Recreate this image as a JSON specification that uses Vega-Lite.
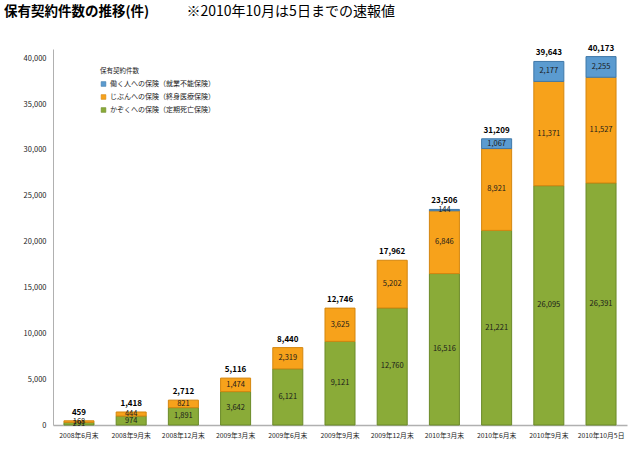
{
  "$schema": "https://vega.github.io/schema/vega-lite/v6.json",
  "width": 574,
  "height": 376,
  "autosize": {"type": "none"},
  "padding": {"left": 53, "top": 49, "right": 15, "bottom": 25},
  "background": "white",
  "title": {
    "text": "保有契約件数の推移(件)",
    "anchor": "start",
    "frame": "group",
    "dx": -49,
    "offset": -14,
    "fontSize": 13.5,
    "fontWeight": "bold",
    "color": "#000000",
    "font": "Noto Sans CJK JP"
  },
  "data": {
    "values": [
      {"cat": "2008年6月末", "series": "かぞくへの保険（定期死亡保険）", "value": 291},
      {"cat": "2008年6月末", "series": "じぶんへの保険（終身医療保険）", "value": 168},
      {"cat": "2008年9月末", "series": "かぞくへの保険（定期死亡保険）", "value": 974},
      {"cat": "2008年9月末", "series": "じぶんへの保険（終身医療保険）", "value": 444},
      {"cat": "2008年12月末", "series": "かぞくへの保険（定期死亡保険）", "value": 1891},
      {"cat": "2008年12月末", "series": "じぶんへの保険（終身医療保険）", "value": 821},
      {"cat": "2009年3月末", "series": "かぞくへの保険（定期死亡保険）", "value": 3642},
      {"cat": "2009年3月末", "series": "じぶんへの保険（終身医療保険）", "value": 1474},
      {"cat": "2009年6月末", "series": "かぞくへの保険（定期死亡保険）", "value": 6121},
      {"cat": "2009年6月末", "series": "じぶんへの保険（終身医療保険）", "value": 2319},
      {"cat": "2009年9月末", "series": "かぞくへの保険（定期死亡保険）", "value": 9121},
      {"cat": "2009年9月末", "series": "じぶんへの保険（終身医療保険）", "value": 3625},
      {"cat": "2009年12月末", "series": "かぞくへの保険（定期死亡保険）", "value": 12760},
      {"cat": "2009年12月末", "series": "じぶんへの保険（終身医療保険）", "value": 5202},
      {"cat": "2010年3月末", "series": "かぞくへの保険（定期死亡保険）", "value": 16516},
      {"cat": "2010年3月末", "series": "じぶんへの保険（終身医療保険）", "value": 6846},
      {"cat": "2010年3月末", "series": "働く人への保険（就業不能保険）", "value": 144},
      {"cat": "2010年6月末", "series": "かぞくへの保険（定期死亡保険）", "value": 21221},
      {"cat": "2010年6月末", "series": "じぶんへの保険（終身医療保険）", "value": 8921},
      {"cat": "2010年6月末", "series": "働く人への保険（就業不能保険）", "value": 1067},
      {"cat": "2010年9月末", "series": "かぞくへの保険（定期死亡保険）", "value": 26095},
      {"cat": "2010年9月末", "series": "じぶんへの保険（終身医療保険）", "value": 11371},
      {"cat": "2010年9月末", "series": "働く人への保険（就業不能保険）", "value": 2177},
      {"cat": "2010年10月5日", "series": "かぞくへの保険（定期死亡保険）", "value": 26391},
      {"cat": "2010年10月5日", "series": "じぶんへの保険（終身医療保険）", "value": 11527},
      {"cat": "2010年10月5日", "series": "働く人への保険（就業不能保険）", "value": 2255}
    ]
  },
  "transform": [
    {"stack": "value", "groupby": ["cat"], "sort": [{"field": "series", "order": "ascending"}], "as": ["y0", "y1"]}
  ],
  "encoding": {
    "x": {
      "field": "cat",
      "type": "nominal",
      "sort": ["2008年6月末", "2008年9月末", "2008年12月末", "2009年3月末", "2009年6月末", "2009年9月末", "2009年12月末", "2010年3月末", "2010年6月末", "2010年9月末", "2010年10月5日"],
      "scale": {"paddingInner": 0.425, "paddingOuter": 0.21},
      "axis": {
        "title": null,
        "labelAngle": 0,
        "labelFontSize": 6.8,
        "labelColor": "#222222",
        "labelPadding": 7,
        "ticks": false,
        "domainColor": "#b0b0b0",
        "domainWidth": 1.5
      }
    }
  },
  "layer": [
    {
      "mark": {"type": "bar", "strokeWidth": 1},
      "encoding": {
        "y": {
          "field": "y0",
          "type": "quantitative",
          "scale": {"domain": [0, 41000], "nice": false},
          "axis": {
            "title": "※2010年10月は5日までの速報値",
            "titleAngle": 0,
            "titleX": 133,
            "titleY": -34,
            "titleAlign": "left",
            "titleBaseline": "alphabetic",
            "titleFontSize": 14,
            "titleFontWeight": "normal",
            "titleColor": "#000000",
            "titleFont": "Noto Sans CJK JP",
            "values": [0, 5000, 10000, 15000, 20000, 25000, 30000, 35000, 40000],
            "labelExpr": "format(datum.value, ',')",
            "grid": false,
            "ticks": false,
            "labelFontSize": 7.5,
            "labelColor": "#222222",
            "labelPadding": 7,
            "domainColor": "#b0b0b0"
          }
        },
        "y2": {"field": "y1"},
        "color": {
          "field": "series",
          "type": "nominal",
          "scale": {
            "domain": ["働く人への保険（就業不能保険）", "じぶんへの保険（終身医療保険）", "かぞくへの保険（定期死亡保険）"],
            "range": ["#5b9bd0", "#f7a21b", "#8aab38"]
          },
          "legend": {
            "title": "保有契約件数",
            "orient": "none",
            "legendX": 47,
            "legendY": 19,
            "titleFontSize": 6.5,
            "titleFontWeight": "normal",
            "titleColor": "#222222",
            "titlePadding": 6,
            "labelFontSize": 7,
            "labelColor": "#222222",
            "labelOffset": 3,
            "symbolType": "square",
            "symbolSize": 22,
            "symbolStrokeWidth": 0.6,
            "rowPadding": 4
          }
        },
        "stroke": {
          "field": "series",
          "type": "nominal",
          "scale": {
            "domain": ["働く人への保険（就業不能保険）", "じぶんへの保険（終身医療保険）", "かぞくへの保険（定期死亡保険）"],
            "range": ["#3f78a8", "#d4860f", "#6b8a28"]
          },
          "legend": null
        }
      }
    },
    {
      "transform": [
        {"fold": ["y0", "y1"], "as": ["k", "pos"]},
        {"aggregate": [{"op": "mean", "field": "pos", "as": "mid"}], "groupby": ["cat", "series", "value"]}
      ],
      "mark": {"type": "text", "fontSize": 7.5, "color": "#1a1a1a", "baseline": "middle"},
      "encoding": {
        "y": {
          "field": "mid",
          "type": "quantitative",
          "axis": {
            "title": "※2010年10月は5日までの速報値",
            "titleAngle": 0,
            "titleX": 133,
            "titleY": -34,
            "titleAlign": "left",
            "titleBaseline": "alphabetic",
            "titleFontSize": 14,
            "titleFontWeight": "normal",
            "titleColor": "#000000",
            "titleFont": "Noto Sans CJK JP",
            "values": [0, 5000, 10000, 15000, 20000, 25000, 30000, 35000, 40000],
            "labelExpr": "format(datum.value, ',')",
            "grid": false,
            "ticks": false,
            "labelFontSize": 7.5,
            "labelColor": "#222222",
            "labelPadding": 7,
            "domainColor": "#b0b0b0"
          }
        },
        "text": {"field": "value", "type": "quantitative", "format": ","}
      }
    },
    {
      "mark": {"type": "text", "fontSize": 8, "fontWeight": "bold", "color": "#000000", "baseline": "middle", "dy": -8},
      "encoding": {
        "y": {
          "aggregate": "max",
          "field": "y1",
          "type": "quantitative",
          "axis": {
            "title": "※2010年10月は5日までの速報値",
            "titleAngle": 0,
            "titleX": 133,
            "titleY": -34,
            "titleAlign": "left",
            "titleBaseline": "alphabetic",
            "titleFontSize": 14,
            "titleFontWeight": "normal",
            "titleColor": "#000000",
            "titleFont": "Noto Sans CJK JP",
            "values": [0, 5000, 10000, 15000, 20000, 25000, 30000, 35000, 40000],
            "labelExpr": "format(datum.value, ',')",
            "grid": false,
            "ticks": false,
            "labelFontSize": 7.5,
            "labelColor": "#222222",
            "labelPadding": 7,
            "domainColor": "#b0b0b0"
          }
        },
        "text": {"aggregate": "sum", "field": "value", "type": "quantitative", "format": ","}
      }
    }
  ],
  "config": {
    "font": "Noto Sans CJK JP",
    "view": {"stroke": null}
  }
}
